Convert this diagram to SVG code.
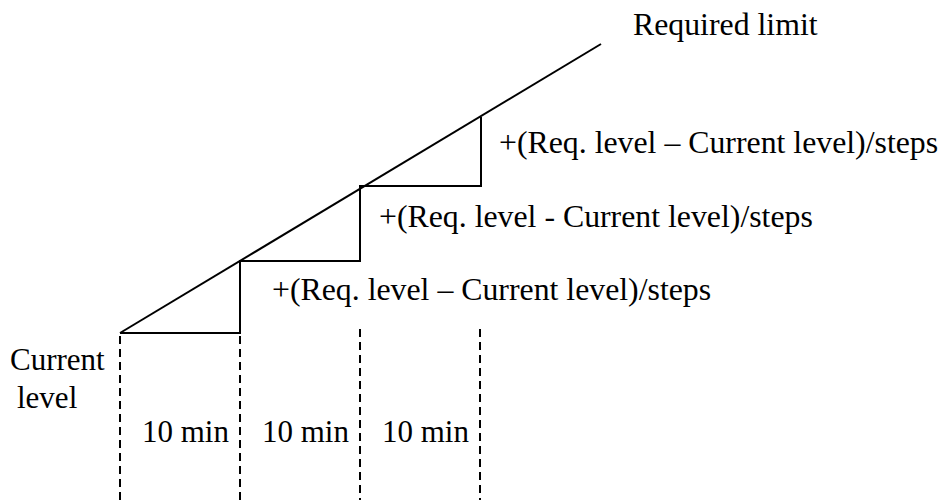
<svg xmlns="http://www.w3.org/2000/svg" width="943" height="500" viewBox="0 0 943 500">
<style>
.t{font-family:"Liberation Serif","Times New Roman",serif;font-size:31px;fill:#000}
.l{font-size:31.8px}
.s{stroke:#000;stroke-width:2;fill:none}
.d{stroke:#000;stroke-width:2;stroke-dasharray:8,5;fill:none}
</style>
<rect width="943" height="500" fill="#fff"/>
<g id="connectors">
<line class="s" x1="120" y1="333" x2="601" y2="44"/>
<polyline class="s" points="120,333 240,333 240,261 360,261 360,186 481,186 481,117"/>
<line class="d" x1="120" y1="336" x2="120" y2="500"/>
<line class="d" x1="240" y1="336" x2="240" y2="500"/>
<line class="d" x1="360" y1="329" x2="360" y2="500"/>
<line class="d" x1="480" y1="329" x2="480" y2="500"/>
</g>
<g id="required-limit"><text class="t l" x="633" y="35">Required limit</text></g>
<g id="step3-label"><text class="t l" x="499" y="153">+(Req. level – Current level)/steps</text></g>
<g id="step2-label"><text class="t l" x="379" y="227">+(Req. level - Current level)/steps</text></g>
<g id="step1-label"><text class="t l" x="272" y="300">+(Req. level – Current level)/steps</text></g>
<g id="current-level"><text class="t" x="10" y="370">Current</text><text class="t" x="17" y="408">level</text></g>
<g id="interval1"><text class="t" x="142" y="442">10 min</text></g>
<g id="interval2"><text class="t" x="262" y="442">10 min</text></g>
<g id="interval3"><text class="t" x="382" y="442">10 min</text></g>
</svg>
